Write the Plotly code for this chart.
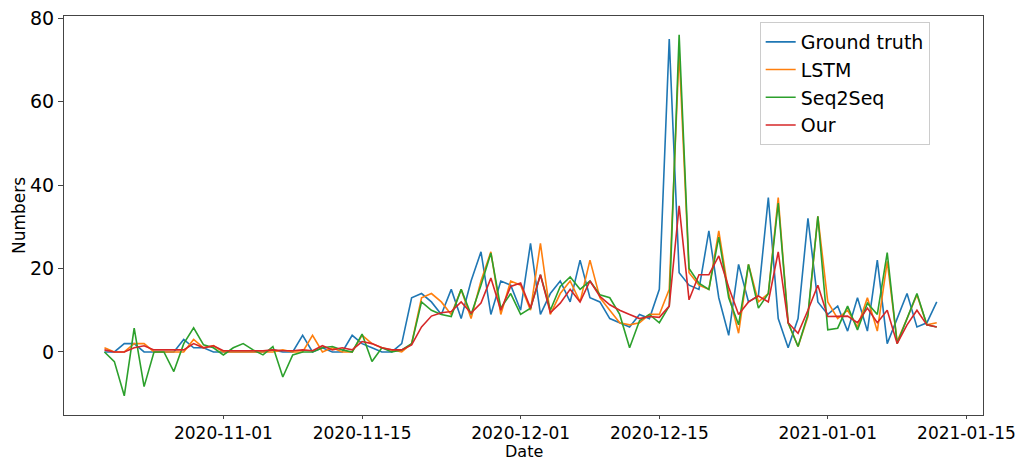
import pandas as pd
import plotly.graph_objects as go

start_date = "2020-10-20"
n_days = 85
dates = pd.date_range(start_date, periods=n_days, freq="D")

ground_truth = [0, 0, 2, 2, 0, 0, 0, 0, 3, 1, 1, 0, 0, 0, 0, 0, 0, 0.5, 0, 0,
                4, 0, 1, 0, 0, 4, 2, 1, 0, 0, 2, 13, 14, 12, 9, 15, 8, 17, 24, 9,
                17, 16, 10, 26, 9, 14, 17, 12, 22, 13, 12, 8, 7, 6, 9, 8, 15, 75, 19, 16,
                15, 29, 13, 4, 21, 12, 13.5, 37, 8, 1, 8, 32, 12, 9, 11, 5, 13, 5, 22, 2,
                8, 14, 6, 7, 12]
lstm = [1, 0, 0, 2, 2, 0, 0, 0, 0, 3, 1, 1.5, 0, 0, 0, 0, 0, 0, 0.5, 0,
        0, 4, 0, 1, 0, 0, 4, 2, 1, 0.5, 0, 2, 13, 14, 12, 9, 15, 8, 17, 24,
        9, 17, 16, 10, 26, 9, 14, 17, 12, 22, 13, 10, 7, 6.5, 7, 9, 9, 15, 72, 19,
        16, 15, 29, 14, 4.5, 21, 12, 14, 37, 7, 1.3, 8.5, 32.5, 12, 8, 10, 6, 13, 5, 21.7,
        2.5, 8, 13.7, 6.5, 7]
seq2seq = [0, -2.3, -10.5, 5.7, -8.3, 0, 0, -4.7, 2, 5.8, 1.7, 1, -0.7, 1, 2, 0.5, -0.7, 1.3, -6, -0.7,
           0, 0, 1, 1.3, 0.5, 0, 4.3, -2.3, 1, 0, 0.5, 2, 12, 10, 9, 8.5, 15, 9, 16, 23.7,
           10.5, 14, 9, 10.5, 18.5, 10, 15.7, 18, 15, 17, 13.7, 13, 9, 1, 7.5, 9, 7, 11, 76, 20,
           16.5, 15, 27.5, 13, 6.5, 21, 10.5, 14, 35.7, 7, 1.3, 9, 32.5, 5.3, 5.7, 11, 5.3, 11.7, 9, 23.8,
           2, 8, 14, 6.5, 6]
ours = [0.5, 0, 0, 1, 1.5, 0.5, 0.5, 0.5, 0.5, 2, 1, 1.5, 0.3, 0.3, 0.3, 0.3, 0.3, 0.5, 0.3, 0.3,
        0.5, 0.3, 1.5, 0.5, 1, 0.5, 2.5, 2, 1, 0.5, 0.5, 1.7, 6, 8.6, 9.4, 9.7, 12, 9.3, 11.7, 17.7,
        10, 15.7, 16.5, 10.5, 18.5, 9.4, 11.7, 15, 12, 17, 13.3, 11.3, 10, 9, 8, 8.5, 8.3, 11, 35, 12.5,
        18.5, 18.5, 23, 15.5, 9, 12, 13.4, 12, 24, 7, 4.5, 10, 16, 8.5, 8.5, 8.6, 7, 10.5, 7, 10,
        2, 6.5, 10, 6.5, 6]

series_names = ["Ground truth", "LSTM", "Seq2Seq", "Our"]
series_values = [ground_truth, lstm, seq2seq, ours]
series_colors = ["#1f77b4", "#ff7f0e", "#2ca02c", "#d62728"]

x_tick_labels = ["2020-11-01", "2020-11-15", "2020-12-01", "2020-12-15", "2021-01-01", "2021-01-15"]
y_tick_values = [0, 20, 40, 60, 80]

FONT = "DejaVu Sans"

fig = go.Figure()
for name, vals, col in zip(series_names, series_values, series_colors):
    fig.add_trace(go.Scatter(x=dates, y=vals, mode="lines", name=name,
                             line=dict(color=col, width=1.6)))

axis_common = dict(showline=True, linecolor="#444", linewidth=1, mirror=True,
                   ticks="outside", tickcolor="#444", showgrid=False,
                   zeroline=False, automargin=False)

fig.update_layout(
    width=1030, height=459,
    margin=dict(l=64, r=47, t=16, b=44),
    paper_bgcolor="white", plot_bgcolor="white",
    font=dict(family=FONT, color="black"),
    xaxis=dict(range=["2020-10-15 22:00", "2021-01-16 16:00"],
               tickvals=x_tick_labels, ticktext=x_tick_labels,
               tickfont=dict(family=FONT, size=17, color="black"),
               ticklen=3,
               **axis_common),
    yaxis=dict(range=[-15.1, 80.5], tickvals=y_tick_values, ticklen=5,
               tickfont=dict(family=FONT, size=19, color="black"),
               title=dict(text="Numbers", font=dict(family=FONT, size=17), standoff=0),
               **axis_common),
    legend=dict(x=0.757, y=0.985, xanchor="left", yanchor="top",
                bgcolor="rgba(255,255,255,0.85)", bordercolor="#ccc", borderwidth=1,
                font=dict(family=FONT, size=19), tracegroupgap=0),
    showlegend=True,
    annotations=[dict(text="Date", xref="paper", yref="paper", x=0.5, y=-0.092,
                      xanchor="center", yanchor="middle", showarrow=False,
                      font=dict(family=FONT, size=16, color="black"))],
)

fig.write_html("out.html", config={"displayModeBar": False},
               post_script="document.body.style.margin='0px';document.body.style.overflow='hidden';")
